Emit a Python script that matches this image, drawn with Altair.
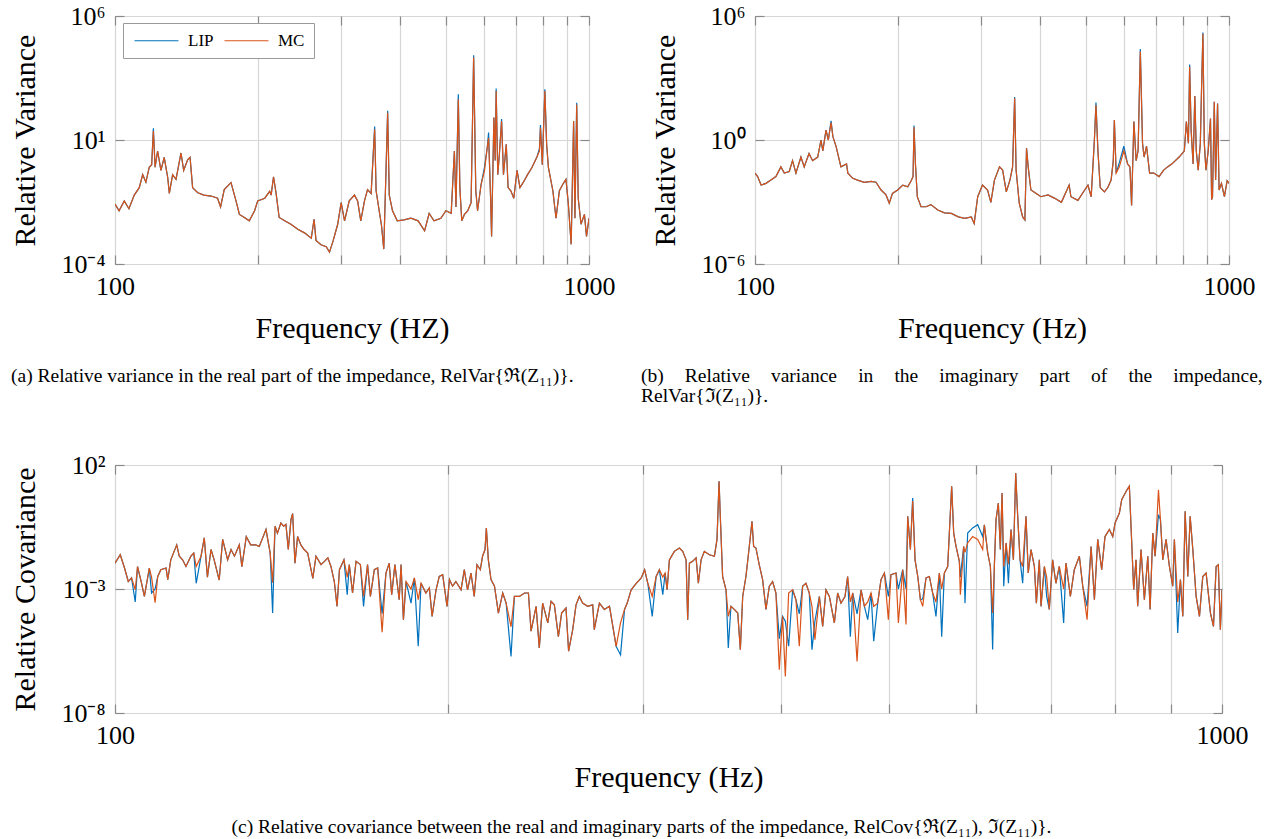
import altair as alt
import pandas as pd

BLUE = "#0072BD"
ORANGE = "#D95319"
SERIES = ["LIP", "MC"]
FONT = "Liberation Serif"

FREQ_TICKS = [100, 200, 300, 400, 500, 600, 700, 800, 900, 1000]
FREQ_LABELLED = [100, 1000]

# ---------------- panel (a): RelVar{Re(Z11)}  (frequency Hz, MC value) ----------------
points_a = [
    (100, 2.6e-2), (102, 1.4e-2), (104.6, 3.5e-2), (107, 1.7e-2), (109.8, 6e-2),
    (112.5, 0.12), (114.4, 0.4), (116.2, 0.2), (118.1, 0.8), (119.5, 1.0),
    (120.5, 23), (121.5, 0.8), (123, 3.6), (125, 0.6), (127, 2.0),
    (129.2, 0.3), (130.2, 0.07), (132.3, 0.4), (134.5, 0.26), (137.8, 3.0),
    (139.6, 0.6), (142.3, 1.6), (144, 2.0), (145.8, 0.12), (149.5, 0.075),
    (154, 0.06), (159.5, 0.055), (164.6, 0.045), (167, 0.02), (170, 0.1),
    (175.7, 0.19), (180, 0.035), (183, 0.01), (187.5, 0.0075), (192, 0.0055),
    (197, 0.014), (200, 0.035), (207, 0.045), (212, 0.085), (213.5, 0.06),
    (216, 0.33), (218.6, 0.075), (222, 0.0075), (228, 0.0055), (235, 0.004),
    (243, 0.0025), (251, 0.0018), (259.5, 0.0011), (263, 0.0063), (265.5, 0.0009),
    (272, 6e-4), (279, 5e-4), (283.5, 3e-4), (288.5, 8.5e-4), (295, 4e-3),
    (300, 0.03), (305, 5.5e-3), (312, 0.035), (320, 0.06), (325, 0.035),
    (330, 5.5e-3), (336, 0.035), (341, 0.1), (347, 0.07), (353, 27),
    (355.5, 0.09), (365, 3.5e-3), (369, 4e-4), (372, 0.09), (376, 125),
    (379, 0.06), (385, 0.014), (394, 5.5e-3), (407, 6e-3), (421, 7e-3),
    (436, 5.5e-3), (450, 2.2e-3), (460, 0.011), (471, 5.5e-3), (487, 7e-3),
    (499, 0.014), (512, 0.011), (520, 3.6), (524, 0.02), (530, 440),
    (534, 0.12), (539, 5.5e-3), (546, 0.01), (555, 0.014), (564, 0.03),
    (571, 2.1e4), (577, 0.09), (582, 0.014), (592, 0.16), (602, 0.6),
    (610, 5), (614, 12), (620, 0.045), (623, 1.3e-3), (630, 80),
    (634, 1.5), (637, 950), (642, 0.4), (647, 2.6), (654, 58),
    (660, 0.4), (669, 6.7), (675, 0.12), (684, 0.09), (694, 0.045),
    (705, 0.6), (715, 0.12), (726, 0.19), (742, 0.4), (758, 0.78),
    (776, 2), (786, 3.6), (790, 31), (797, 1.0), (807, 950),
    (814, 6.7), (821, 0.78), (839, 0.09), (852, 7e-3), (866, 0.09),
    (880, 0.16), (894, 0.26), (904, 0.03), (917, 6.2e-4), (928, 58),
    (934, 7e-3), (942, 270), (949, 0.045), (962, 4e-3), (978, 0.01),
    (988, 1.3e-3), (1000, 7e-3),
]
# LIP values where they differ from MC
lip_a = {120.5: 30, 353: 35, 376: 150, 530: 700, 571: 2.6e4, 602: 0.8, 614: 20,
         637: 1200, 654: 70, 786: 4.5, 790: 40, 807: 1100, 942: 320}

# ---------------- panel (b): RelVar{Im(Z11)} ----------------
points_b = [
    (100, 0.025), (101.3, 0.017), (103, 6.6e-3), (105.5, 8e-3), (108, 0.0115),
    (110.7, 0.017), (113.4, 0.05), (115.3, 0.025), (118.1, 0.03), (120, 0.1),
    (122, 0.025), (125, 0.15), (127, 0.05), (130, 0.22), (132.3, 0.1),
    (135.6, 0.15), (137.8, 1.0), (139, 0.3), (141.2, 3), (142.8, 1.0),
    (144.7, 7), (146, 1.45), (148.3, 0.48), (151.8, 0.05), (156, 0.07),
    (157, 0.025), (160.8, 0.014), (164.6, 0.0115), (170, 9e-3), (175.7, 0.01),
    (180, 9e-3), (184.5, 3.8e-3), (189, 2.2e-3), (192, 8.7e-4), (195, 2.6e-3),
    (200, 3.8e-3), (205, 6.6e-3), (210, 5.5e-3), (213.5, 0.0107), (215.5, 0.017),
    (216.5, 4.1), (218, 0.07), (220, 1.8e-3), (224, 5.9e-4), (229.5, 5.9e-4),
    (235, 7.5e-4), (243, 4.1e-4), (251, 3e-4), (259.5, 2.8e-4), (268.5, 1.9e-4),
    (277, 1.6e-4), (286, 1.9e-4), (290, 9e-5), (295, 1.8e-3), (302, 6.6e-3),
    (309.5, 3.8e-3), (314.5, 9.6e-4), (320, 0.0115), (328, 0.05), (333, 0.035),
    (339, 3.1e-3), (345, 0.0115), (349.5, 0.05), (353, 105), (355.5, 0.035),
    (361, 8.7e-4), (367, 1.9e-4), (371, 1.35e-4), (374, 0.4), (377, 0.05),
    (382, 3.8e-3), (392, 2.6e-3), (401, 1.8e-3), (415, 2.2e-3), (429, 1.5e-3),
    (443, 9.6e-4), (460, 6.6e-3), (464, 1.8e-3), (480, 1.2e-3), (496, 3.8e-3),
    (504, 6.6e-3), (512, 1.8e-3), (520, 1.0), (524, 49), (529, 0.3),
    (535, 5e-3), (546, 3.1e-3), (555, 5e-3), (564, 0.0115), (570, 0.1),
    (573, 9.3), (578, 0.025), (587, 0.05), (600, 0.3), (611, 0.07),
    (618, 0.05), (623, 6.8e-4), (630, 7.8), (637, 0.1), (643, 0.3),
    (650, 1.9e4), (657, 0.7), (662, 0.15), (670, 0.5), (680, 0.025),
    (694, 0.025), (712, 0.017), (728, 0.035), (742, 0.05), (758, 0.07),
    (785, 0.15), (805, 0.3), (813, 7.8), (821, 0.7), (826, 3500),
    (832, 3), (840, 0.07), (847, 135), (853, 0.3), (861, 0.035),
    (870, 0.7), (876, 790), (881, 1.4e5), (887, 0.7), (894, 0.035),
    (904, 0.3), (914, 11), (919, 1.3e-3), (923, 1.8e-3), (931, 71),
    (937, 0.0115), (946, 59), (953, 3.8e-3), (964, 8e-3), (978, 1.8e-3),
    (991, 0.0107), (1000, 8e-3),
]
lip_b = {144.7: 8.5, 216.5: 5, 353: 120, 524: 65, 587: 0.08, 600: 0.5,
         650: 2.5e4, 826: 4500, 881: 1.6e5}

# ---------------- panel (c): RelCov{Re(Z11), Im(Z11)} ----------------
points_c = [
    (100, 0.011), (101.1, 0.024), (102, 7e-3), (102.8, 2e-3), (103.5, 2.8e-3),
    (104.3, 9.3e-4), (104.8, 8e-3), (105.6, 2e-3), (106.3, 5e-4), (107.4, 7e-3),
    (107.9, 3e-3), (108.7, 2.8e-4), (109.3, 3.2e-3), (110, 6e-3), (111.2, 7e-3),
    (111.6, 2.4e-3), (112.3, 0.015), (113.7, 0.06), (114.3, 0.021), (115.1, 0.015),
    (115.9, 8.1e-3), (117.1, 0.021), (117.8, 0.028), (118.4, 8e-3), (119.6, 0.021),
    (120.4, 0.115), (121.2, 3e-3), (122.1, 0.039), (122.9, 0.015), (124.2, 2.3e-3),
    (125.1, 0.1), (126.4, 0.015), (127.3, 0.039), (128.2, 0.021), (129.5, 0.06),
    (130.2, 8e-3), (131.4, 0.13), (132.6, 0.06), (134, 0.06), (135, 0.052),
    (135.9, 0.11), (136.9, 0.25), (138.1, 0.028), (138.8, 1.8e-3), (139.5, 0.34),
    (140.2, 0.18), (141.2, 0.46), (142, 0.34), (142.7, 0.4), (143.4, 0.039),
    (144.2, 0.63), (144.7, 1.1), (145.4, 0.011), (146.2, 0.13), (147.2, 0.06),
    (148.2, 0.039), (149.3, 0.028), (150.9, 2.7e-3), (151.9, 0.021), (153.5, 9.6e-3),
    (154.6, 0.013), (155.7, 0.018), (156.7, 8.1e-3), (157.8, 2e-3), (158.7, 2e-4),
    (159.5, 6e-3), (161, 0.015), (162.1, 3e-3), (162.8, 9.6e-3), (163.9, 6.9e-4),
    (165.1, 0.013), (166.6, 9.6e-3), (167.7, 5e-4), (169.1, 9.6e-3), (170.1, 5e-4),
    (171.5, 6e-3), (172.7, 7e-3), (174.3, 1.8e-5), (175.7, 4.4e-3), (176.9, 0.011),
    (177.8, 5.9e-4), (179, 9.6e-3), (180.6, 3.7e-4), (181.3, 9.6e-3), (182.2, 5.8e-5),
    (183.2, 2e-3), (185.1, 1e-3), (186.4, 2.8e-3), (187.9, 3.7e-4), (189, 1.7e-3),
    (190.9, 6.9e-4), (192.3, 1.1e-3), (193.4, 7.9e-5), (195, 9.3e-4), (196.3, 3.2e-3),
    (197.7, 3.8e-3), (199.5, 2e-4), (200.5, 2.4e-3), (201.8, 1.3e-3), (203.2, 2e-3),
    (205.4, 9.3e-4), (206.8, 6e-3), (208.2, 9.3e-4), (209.7, 4.4e-3), (211.1, 5e-4),
    (212.3, 9.6e-3), (213.8, 6e-3), (214.8, 0.021), (215.9, 0.039), (216.5, 0.29),
    (217.4, 0.015), (218.6, 2.4e-3), (220.2, 1.3e-3), (222, 1.07e-4), (224, 6.9e-4),
    (225.6, 2.7e-4), (227.9, 3e-5), (229.5, 5e-4), (231.9, 5e-4), (234.4, 6.9e-4),
    (236.3, 6.9e-4), (237.6, 2e-5), (240.1, 2e-4), (241.7, 4.2e-6), (243.4, 2.7e-4),
    (246, 4.3e-5), (247.7, 3.2e-4), (249.4, 2.3e-4), (251.5, 1.2e-5), (253.2, 1.07e-4),
    (255.5, 1.7e-4), (256.9, 3.1e-6), (259.1, 2.3e-5), (260.9, 2.3e-4), (262.7, 5e-4),
    (264.5, 2.7e-4), (267.3, 2e-4), (270.1, 2.3e-4), (271, 2.3e-5), (273.9, 2.7e-4),
    (276.7, 1.5e-4), (279.7, 2e-4), (283.6, 4.9e-6), (286.2, 4.3e-5), (288.6, 1.5e-4),
    (290.2, 2.7e-4), (292.6, 9.3e-4), (295.7, 1.7e-3), (298.8, 2.8e-3), (300.9, 6e-3),
    (302.9, 1.7e-3), (305.7, 5e-4), (308.2, 3.2e-3), (310.3, 6e-3), (312.5, 3e-3),
    (314, 4.4e-3), (315.3, 9.3e-4), (316.8, 0.015), (320.1, 0.033), (323.5, 0.045),
    (325.7, 0.033), (328, 0.015), (329.1, 5.8e-5), (330.3, 0.011), (332.5, 0.013),
    (334.9, 0.018), (336.5, 1.7e-3), (338.4, 0.015), (340.7, 0.033), (344.3, 0.024),
    (347.9, 0.021), (349.8, 0.1), (351.3, 22), (352.2, 0.85), (353.9, 3.2e-3),
    (356.4, 9.3e-4), (358.1, 7.9e-5), (360.1, 2e-4), (362.6, 1.5e-4), (365.2, 1.07e-4),
    (367.2, 3.6e-6), (369, 5e-4), (371.5, 3.2e-3), (374.1, 0.052), (376.2, 0.54),
    (377.5, 0.052), (379.3, 0.045), (381.9, 9.6e-3), (384.6, 2.4e-3), (387.3, 1.5e-4),
    (390, 1.3e-3), (392.7, 2e-3), (395.4, 6.9e-4), (398.2, 5.6e-7), (400.9, 7.9e-5),
    (403.2, 3e-7), (406, 6.9e-4), (409.4, 9.3e-4), (412.2, 3.7e-4), (415.1, 4.9e-6),
    (418, 1.3e-3), (420.9, 1.7e-3), (423.8, 6.9e-4), (426.2, 2e-4), (428.8, 9.1e-6),
    (432.8, 5e-4), (435.8, 3.1e-5), (438.8, 9.3e-4), (441.9, 5e-4), (446.5, 4.3e-5),
    (449.6, 6.9e-4), (452.7, 2.7e-4), (456.5, 5e-4), (459, 3.2e-3), (461.6, 3e-4),
    (463.9, 6.9e-4), (468.1, 1.2e-6), (472, 9.3e-4), (475.3, 2e-4), (478.6, 3e-4),
    (481.9, 6.9e-4), (484.6, 2e-4), (488.6, 2.7e-4), (492, 2.4e-3), (495.5, 4.4e-3),
    (499.6, 5.8e-5), (502.3, 3.8e-3), (507.6, 4.4e-3), (510.1, 4.3e-5), (514.7, 6e-3),
    (518.3, 3.7e-5), (520.1, 0.85), (523, 0.039), (525.5, 3.5), (528.1, 0.015),
    (531.1, 3.2e-3), (534, 3.7e-4), (536.6, 2e-4), (540.3, 2.8e-3), (544.1, 3.2e-3),
    (547.8, 6.9e-4), (551.6, 3e-4), (555.5, 4.4e-3), (558.2, 1e-3), (561.3, 4.4e-3),
    (565.2, 8.1e-3), (569.9, 14), (572.3, 0.18), (575.1, 0.052), (579.1, 0.013),
    (580.3, 5.9e-4), (584.3, 0.052), (585.9, 0.03), (589.2, 0.072), (595.3, 0.13),
    (601.6, 0.1), (607.9, 0.039), (610, 0.39), (614.3, 0.028), (617.7, 8.1e-3),
    (620.6, 1.07e-4), (622.8, 8.1e-3), (625, 0.63), (628, 2.9), (630.6, 0.039),
    (632.9, 7.4), (635.1, 8.1e-3), (638.2, 0.072), (641.3, 0.01), (644.8, 0.25),
    (648, 0.015), (651.1, 48), (653.8, 0.85), (657, 0.015), (660.6, 8.1e-3),
    (665.2, 0.85), (668.3, 4.4e-3), (672.2, 0.039), (676.9, 8.1e-3), (679.7, 2.7e-4),
    (683.9, 0.015), (686.3, 2e-4), (691.1, 8.1e-3), (694.4, 3e-3), (698.2, 1.5e-4),
    (703.1, 0.015), (707.9, 1.7e-3), (712.9, 8.1e-3), (719.4, 1e-3), (722.9, 0.011),
    (729.5, 5e-4), (735.5, 6e-3), (743.3, 0.021), (748.5, 1.3e-3), (755.3, 5.8e-5),
    (761.6, 0.052), (766.9, 3.7e-4), (772.2, 0.1), (778.6, 6e-3), (784, 0.13),
    (791.2, 0.25), (796.7, 0.13), (800.6, 0.46), (807.8, 1.15), (811.7, 4),
    (820.7, 10), (824.7, 14), (827.6, 0.34), (832.2, 9.3e-4), (836.2, 0.015),
    (839.1, 2e-4), (845, 0.039), (850.9, 3.7e-4), (857, 0.021), (861.1, 1.5e-4),
    (865.9, 0.18), (870.1, 0.021), (876.2, 10), (879.8, 0.63), (884.1, 0.015),
    (890.2, 0.1), (896.4, 8.1e-3), (902.6, 1.3e-3), (905.7, 0.1), (912, 3e-4),
    (917.2, 2.4e-3), (921.7, 7.9e-5), (926.2, 1.35), (931.3, 3.2e-3), (935.9, 0.85),
    (941.1, 0.039), (947.6, 5e-4), (954.2, 7.9e-5), (960.8, 3.2e-3), (967.5, 4.4e-3),
    (976.3, 1.07e-4), (982.4, 3.1e-5), (987.9, 8.1e-3), (992.4, 9.6e-3), (996.6, 2.3e-5),
    (1000, 9.3e-4),
]
lip_c = {
    104.3: 3e-4, 107.9: 6.9e-4, 108.7: 1e-3, 118.4: 1.7e-3, 138.8: 1.07e-4,
    162.1: 5.9e-4, 167.7: 2e-4, 174.3: 1e-4, 185.1: 2.7e-4, 187.9: 4.9e-6,
    227.9: 1.9e-6, 286.2: 2.2e-6, 305.7: 7.9e-5, 312.5: 5.9e-4, 358.1: 4.2e-6,
    398.2: 1e-5, 403.2: 5e-5, 406: 4.9e-6, 415.1: 1e-4, 426.2: 3.6e-6,
    428.8: 5e-5, 461.6: 1.2e-5, 468.1: 1e-4, 478.6: 5.8e-5, 484.6: 7.8e-6,
    499.6: 5e-4, 510.1: 1e-3, 518.3: 1e-3, 525.5: 4.7, 536.6: 4e-4,
    551.6: 7.9e-5, 558.2: 1.2e-5, 580.3: 3e-3, 585.9: 2.7e-4, 589.2: 0.18,
    595.3: 0.29, 601.6: 0.39, 607.9: 0.13, 620.6: 3.6e-6, 635.1: 1.3e-3,
    641.3: 1.7e-3, 660.6: 1.7e-3, 694.4: 5e-4, 719.4: 4.3e-5, 755.3: 2e-4,
    876.2: 1, 912: 1.7e-5,
}

SUP = {"a": {1e-4: "10⁻⁴", 10.0: "10¹", 1e6: "10⁶"},
       "b": {1e-6: "10⁻⁶", 1.0: "10⁰", 1e6: "10⁶"},
       "c": {1e-8: "10⁻⁸", 1e-3: "10⁻³", 100.0: "10²"}}

CAP_A = "(a) Relative variance in the real part of the impedance, RelVar{\u211C(Z\u2081\u2081)}."
G = " \u2002\u2004"
CAP_B = [G.join(["(b)", "Relative", "variance", "in", "the", "imaginary", "part", "of", "the", "impedance,"]),
         "RelVar{\u2111(Z\u2081\u2081)}."]
CAP_C = "(c) Relative covariance between the real and imaginary parts of the impedance, RelCov{\u211C(Z\u2081\u2081), \u2111(Z\u2081\u2081)}."
CAP_SIZE = 19.5
TICK_LEN = 9
TICK_COLOR = "#8a8a8a"
# legend line sample: a wide, flat custom symbol so the legend row stays compact
LEGEND_LINE = "M-1,0H6.33"


def make_panel(points, lip_diff, ylab, xtitle, ytitle, width, height, show_legend, title):
    rows = [{"f": f, "v": lip_diff.get(f, v), "s": "LIP"} for f, v in points]
    rows += [{"f": f, "v": v, "s": "MC"} for f, v in points]
    df = pd.DataFrame(rows)
    yvals = sorted(ylab.keys())
    yexpr = "".join(f"datum.value == {float(k)!r} ? '{lab}' : " for k, lab in ylab.items()) + "''"
    xexpr = " || ".join(f"datum.value == {v}" for v in FREQ_LABELLED)
    if show_legend:
        legend = alt.Legend(orient="none", legendX=8, legendY=7, direction="horizontal",
                            title=None, symbolType=LEGEND_LINE, symbolSize=144,
                            symbolStrokeWidth=1, symbolFillColor="transparent",
                            labelFont=FONT, labelFontSize=17,
                            labelColor="black", fillColor="white", strokeColor="#9a9a9a",
                            padding=9, labelOffset=39, columnPadding=8, cornerRadius=0)
    else:
        legend = None
    axis_common = dict(domain=False, labelFlush=False,
                       labelFont=FONT, titleFont=FONT, labelFontSize=26, titleFontSize=30,
                       labelColor="black", titleColor="black", titleFontWeight="normal",
                       gridColor="#d6d6d6", gridWidth=1.2,
                       ticks=True, tickSize=TICK_LEN, offset=-TICK_LEN,
                       tickColor=TICK_COLOR, tickWidth=1.2)
    xscale = alt.Scale(type="log", domain=[100, 1000], nice=False)
    yscale = alt.Scale(type="log", domain=[yvals[0], yvals[-1]], nice=False)
    base = alt.Chart(df)
    lines = base.mark_line(strokeWidth=1.2, clip=True).encode(
        x=alt.X("f:Q", scale=xscale,
                axis=alt.Axis(values=FREQ_TICKS, format="d",
                              labelExpr=f"({xexpr}) ? datum.label : ''",
                              title=xtitle, labelPadding=9, titlePadding=14, grid=True,
                              **axis_common)),
        y=alt.Y("v:Q", scale=yscale,
                axis=alt.Axis(values=yvals, labelExpr=yexpr, title=ytitle, grid=True,
                              labelPadding=10, titlePadding=20, **axis_common)),
        color=alt.Color("s:N", scale=alt.Scale(domain=SERIES, range=[BLUE, ORANGE]),
                        legend=legend),
    )
    ghost_axis = dict(labels=False, title=None, grid=False, domain=False, ticks=True,
                      tickSize=TICK_LEN, offset=-TICK_LEN, tickColor=TICK_COLOR,
                      tickWidth=1.2)
    ghost = base.mark_line(opacity=0, clip=True).encode(
        x=alt.X("f:Q", scale=xscale, axis=alt.Axis(orient="top", values=FREQ_TICKS, **ghost_axis)),
        y=alt.Y("v:Q", scale=yscale, axis=alt.Axis(orient="right", values=yvals, **ghost_axis)),
        detail="s:N",
    )
    return alt.layer(lines, ghost).resolve_axis(x="independent", y="independent").properties(
        width=width, height=height, title=title)


title_a = alt.TitleParams(CAP_A, orient="bottom", anchor="start", frame="group", dx=-104,
                          offset=24, font=FONT, fontSize=CAP_SIZE, fontWeight="normal",
                          color="black")
title_b = alt.TitleParams(CAP_B, orient="bottom", anchor="start", frame="group", dx=-114,
                          offset=24, font=FONT, fontSize=CAP_SIZE, fontWeight="normal",
                          color="black", lineHeight=20)
title_c = alt.TitleParams(CAP_C, orient="bottom", anchor="middle", frame="group", dx=-27,
                          offset=26, font=FONT, fontSize=CAP_SIZE, fontWeight="normal",
                          color="black")

chart_a = make_panel(points_a, lip_a, SUP["a"], "Frequency (HZ)", "Relative Variance",
                     474, 248, True, title_a)
chart_b = make_panel(points_b, lip_b, SUP["b"], "Frequency (Hz)", "Relative Variance",
                     474, 248, False, title_b)
chart_c = make_panel(points_c, lip_c, SUP["c"], "Frequency (Hz)", "Relative Covariance",
                     1107, 248, False, title_c)

top = alt.hconcat(chart_a, chart_b, spacing=166).properties(bounds="flush")
chart = alt.vconcat(top, chart_c, spacing=45).properties(
    padding={"left": 10, "top": 2, "right": 0, "bottom": 0},
).resolve_scale(color="independent").configure_view(
    stroke="black", strokeWidth=1
)

chart.save("out.html", embed_options={"renderer": "svg", "actions": False})
